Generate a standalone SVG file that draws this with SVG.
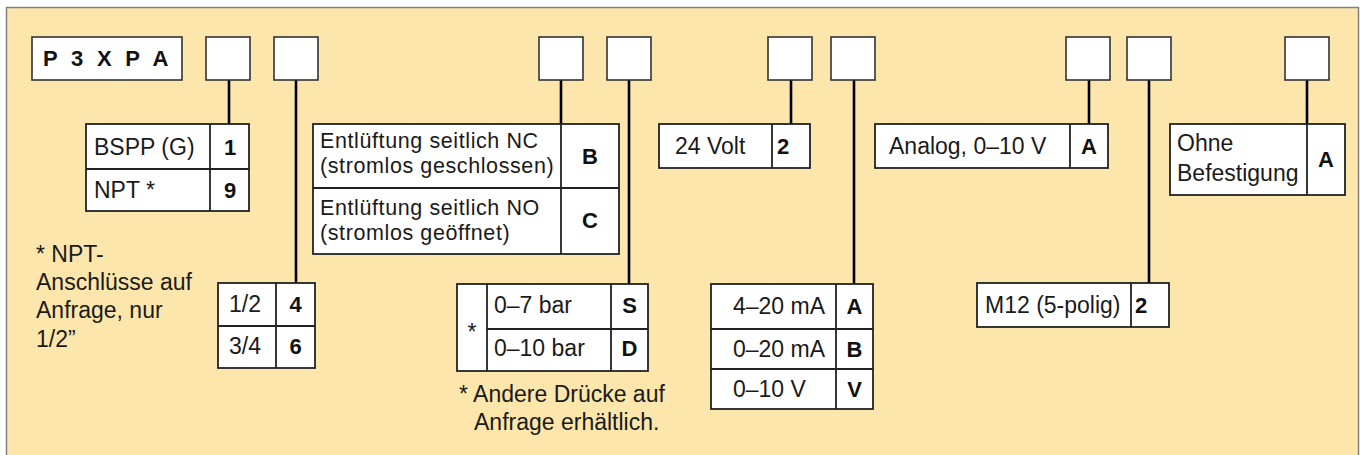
<svg xmlns="http://www.w3.org/2000/svg" width="1360" height="455" viewBox="0 0 1360 455">
<style>
.t{font-family:"Liberation Sans",Arial,sans-serif;font-size:23px;fill:#1a1a1a}
.t2{font-family:"Liberation Sans",Arial,sans-serif;font-size:21.5px;letter-spacing:0.6px;fill:#1a1a1a}
.b{font-family:"Liberation Sans",Arial,sans-serif;font-size:22px;font-weight:bold;fill:#111}
.c{text-anchor:middle}
.cell{fill:#fff;stroke:#222;stroke-width:1.8}
.box{fill:#fff;stroke:#333;stroke-width:1.6}
.ln{stroke:#222;stroke-width:1.8}
.con{stroke:#000;stroke-width:2.6;fill:none}
</style>
<rect x="6.5" y="7.5" width="1352" height="452" fill="#FDE6AB" stroke="#808080" stroke-width="1.5"/>
<g id="connectors">
<line class="con" x1="229" y1="80" x2="229" y2="124"/>
<line class="con" x1="296" y1="80" x2="296" y2="283"/>
<line class="con" x1="561" y1="80" x2="561" y2="124"/>
<line class="con" x1="629" y1="80" x2="629" y2="284"/>
<line class="con" x1="791" y1="80" x2="791" y2="124"/>
<line class="con" x1="854" y1="80" x2="854" y2="284"/>
<line class="con" x1="1089" y1="80" x2="1089" y2="124"/>
<line class="con" x1="1149" y1="80" x2="1149" y2="283"/>
<line class="con" x1="1307" y1="80" x2="1307" y2="124"/>
</g>
<g id="header">
<rect class="box" x="32" y="37" width="150" height="43"/>
<text class="b" x="43" y="66" font-size="24" letter-spacing="3.8">P 3 X P A</text>
</g>
<g id="slot1"><rect class="box" x="206" y="37" width="44" height="43"/></g>
<g id="slot2"><rect class="box" x="274" y="37" width="44" height="43"/></g>
<g id="slot3"><rect class="box" x="539" y="37" width="44" height="43"/></g>
<g id="slot4"><rect class="box" x="607" y="37" width="44" height="43"/></g>
<g id="slot5"><rect class="box" x="768" y="37" width="44" height="43"/></g>
<g id="slot6"><rect class="box" x="831" y="37" width="44" height="43"/></g>
<g id="slot7"><rect class="box" x="1066" y="37" width="44" height="43"/></g>
<g id="slot8"><rect class="box" x="1127" y="37" width="44" height="43"/></g>
<g id="slot9"><rect class="box" x="1285" y="37" width="44" height="43"/></g>

<g id="thread">
<rect class="cell" x="86" y="124" width="163" height="87"/>
<line class="ln" x1="86" y1="169" x2="249" y2="169"/>
<line class="ln" x1="210" y1="124" x2="210" y2="211"/>
<text class="t" x="94" y="155">BSPP (G)</text>
<text class="b c" x="230" y="155">1</text>
<text class="t" x="94" y="198">NPT *</text>
<text class="b c" x="230" y="198">9</text>
</g>
<g id="note1">
<text class="t"><tspan x="36" y="262">* NPT-</tspan><tspan x="36" y="290">Anschlüsse auf</tspan><tspan x="36" y="318">Anfrage, nur</tspan><tspan x="36" y="347">1/2”</tspan></text>
</g>
<g id="size">
<rect class="cell" x="218" y="283" width="97" height="85"/>
<line class="ln" x1="218" y1="326" x2="315" y2="326"/>
<line class="ln" x1="276" y1="283" x2="276" y2="368"/>
<text class="t" x="229" y="312">1/2</text>
<text class="b c" x="295.5" y="312">4</text>
<text class="t" x="229" y="354">3/4</text>
<text class="b c" x="295.5" y="354">6</text>
</g>
<g id="exhaust">
<rect class="cell" x="313" y="124" width="306" height="130"/>
<line class="ln" x1="313" y1="188" x2="619" y2="188"/>
<line class="ln" x1="561" y1="124" x2="561" y2="254"/>
<text class="t2"><tspan x="320" y="148">Entlüftung seitlich NC</tspan><tspan x="320" y="172.5">(stromlos geschlossen)</tspan></text>
<text class="b c" x="590" y="164">B</text>
<text class="t2"><tspan x="320" y="215">Entlüftung seitlich NO</tspan><tspan x="320" y="239.5">(stromlos geöffnet)</tspan></text>
<text class="b c" x="590" y="228">C</text>
</g>
<g id="pressure">
<rect class="cell" x="457" y="284" width="191" height="87"/>
<line class="ln" x1="487" y1="329" x2="648" y2="329"/>
<line class="ln" x1="487" y1="284" x2="487" y2="371"/>
<line class="ln" x1="611" y1="284" x2="611" y2="371"/>
<text class="t c" x="472" y="340">*</text>
<text class="t" x="494" y="313">0–7 bar</text>
<text class="b c" x="629.5" y="313">S</text>
<text class="t" x="494" y="356">0–10 bar</text>
<text class="b c" x="629.5" y="356">D</text>
</g>
<g id="note2">
<text class="t"><tspan x="459" y="402">* Andere Drücke auf</tspan><tspan x="474" y="430">Anfrage erhältlich.</tspan></text>
</g>
<g id="voltage">
<rect class="cell" x="659" y="124" width="151" height="44"/>
<line class="ln" x1="772" y1="124" x2="772" y2="168"/>
<text class="t" x="675" y="154">24 Volt</text>
<text class="b" x="777" y="154">2</text>
</g>
<g id="output">
<rect class="cell" x="711" y="284" width="162" height="125"/>
<line class="ln" x1="711" y1="329" x2="873" y2="329"/>
<line class="ln" x1="711" y1="369" x2="873" y2="369"/>
<line class="ln" x1="836" y1="284" x2="836" y2="409"/>
<text class="t" x="733" y="314">4–20 mA</text>
<text class="b c" x="854.5" y="314">A</text>
<text class="t" x="733" y="357">0–20 mA</text>
<text class="b c" x="854.5" y="357">B</text>
<text class="t" x="733" y="397">0–10 V</text>
<text class="b c" x="854.5" y="397">V</text>
</g>
<g id="control">
<rect class="cell" x="875" y="124" width="233" height="44"/>
<line class="ln" x1="1070" y1="124" x2="1070" y2="168"/>
<text class="t" x="889" y="154">Analog, 0–10 V</text>
<text class="b c" x="1089" y="154">A</text>
</g>
<g id="connector">
<rect class="cell" x="977" y="283" width="192" height="44"/>
<line class="ln" x1="1131" y1="283" x2="1131" y2="327"/>
<text class="t" x="985" y="313">M12 (5-polig)</text>
<text class="b" x="1135" y="313">2</text>
</g>
<g id="mounting">
<rect class="cell" x="1170" y="124" width="175" height="71"/>
<line class="ln" x1="1307" y1="124" x2="1307" y2="195"/>
<text class="t"><tspan x="1177" y="151">Ohne</tspan><tspan x="1177" y="181">Befestigung</tspan></text>
<text class="b c" x="1326" y="167">A</text>
</g>
</svg>
